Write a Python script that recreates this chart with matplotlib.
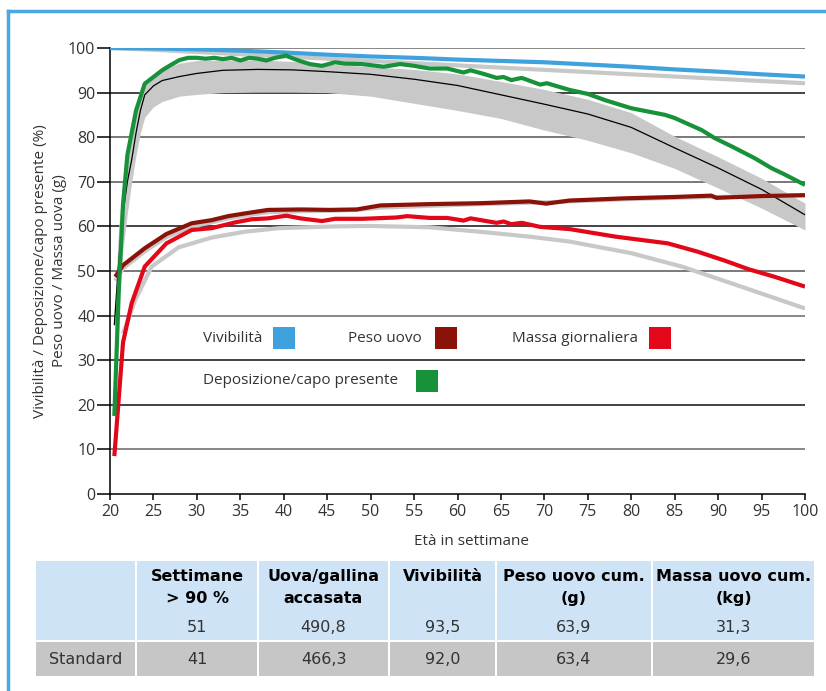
import matplotlib
matplotlib.use("Agg")
from matplotlib import pyplot as plt
from matplotlib.patches import Rectangle
from matplotlib.lines import Line2D

plt.rcParams['font.family'] = ['Open Sans', 'DejaVu Sans']

# --- data ---
viab_x = [20, 25, 30, 35, 40, 45, 50, 55, 60, 65, 70, 75, 80, 85, 90, 95, 100]
viab = [100, 99.9, 99.7, 99.4, 99.0, 98.5, 98.1, 97.8, 97.4, 97.1, 96.8, 96.3, 95.8, 95.2, 94.7, 94.1, 93.6]
viab_std = [100, 99.6, 99.1, 98.6, 98.1, 97.6, 97.1, 96.6, 96.1, 95.6, 95.1, 94.6, 94.1, 93.6, 93.1, 92.6, 92.1]

lay_x = [20.5, 21, 21.5, 22, 22.5, 23, 23.5, 24, 25, 26, 27, 28, 29, 30, 31, 32, 33, 34, 35, 36, 37, 38,
         39, 40.3, 41, 42, 43, 44.4, 45.9, 47, 49, 51.5, 53.4, 55, 56.8, 58.8, 60.7, 61.5, 63, 64.5, 65.3,
         66.2, 67.4, 69.5, 70.3, 72.9, 75, 77, 80, 83.9, 85, 88.1, 89.6, 91.6, 94.2, 96.2, 97.5, 100]
lay = [17.5, 45, 65, 76, 81, 86, 89, 92, 93.5, 95, 96.2, 97.3, 97.8, 97.8, 97.6, 97.8, 97.5, 97.8, 97.2, 97.8,
       97.6, 97.2, 97.8, 98.3, 97.7, 97.0, 96.4, 96.0, 96.8, 96.5, 96.4, 95.8, 96.4, 96.0, 95.4, 95.4, 94.5,
       95.0, 94.2, 93.3, 93.5, 92.8, 93.3, 91.8, 92.1, 90.6, 89.7, 88.3, 86.5, 85.0, 84.3, 81.6, 79.8, 77.9,
       75.3, 73.0, 71.8, 69.3]

lay_std_x = [20.5, 21, 21.5, 22, 22.5, 23, 23.5, 24, 25, 26, 28, 30, 33, 37, 41, 45, 50, 55, 60, 65, 70, 75,
             80, 85, 90, 95, 100]
lay_std = [38, 52, 63, 70, 75, 81, 86, 89.5, 91.5, 92.7, 93.6, 94.3, 95.0, 95.2, 95.1, 94.7, 94.1, 93.0, 91.6,
           89.5, 87.4, 85.2, 82.2, 77.6, 73.1, 68.3, 62.6]
lay_low = [36, 45, 55, 63, 70, 76, 81, 84.5, 86.8, 88, 89.2, 89.6, 90, 90.1, 90.1, 90, 89.2, 87.6, 86.0,
           84.2, 81.6, 79.3, 76.5, 73.0, 68.6, 64.1, 59.2]
lay_high = [40, 60, 70, 78, 83, 87, 90, 92.5, 94, 95.3, 96.6, 97.2, 97.3, 97.3, 97.0, 96.4, 95.8, 95.2, 94.2,
            92.5, 90.7, 88.5, 85.5, 80.2, 75.6, 70.8, 65.2]

egg_x = [20.6, 21.5, 24, 26.5, 29.4, 31.7, 33.6, 35.5, 38.2, 42, 45.3, 48.4, 51.1, 56.8, 62.6, 68.3, 70.2,
         72.9, 79.3, 85, 89.2, 89.8, 95, 100]
egg = [48.7, 51.3, 55.1, 58.3, 60.7, 61.4, 62.3, 62.9, 63.7, 63.8, 63.7, 63.8, 64.7, 65.0, 65.2, 65.6, 65.1,
       65.8, 66.3, 66.6, 66.9, 66.4, 66.8, 67.0]
egg_std = [47.8, 50.6, 54.4, 57.6, 60.0, 60.9, 61.8, 62.4, 63.2, 63.4, 63.5, 63.7, 64.2, 64.6, 65.0, 65.3,
           65.4, 65.6, 66.1, 66.4, 66.6, 66.6, 66.8, 67.0]

mass_x = [20.5, 21.5, 22.5, 24, 26.5, 29.4, 31.7, 34.4, 36.3, 38.2, 40.3, 41.9, 44.4, 45.9, 49, 53, 54.2,
          56.8, 58.8, 60.7, 61.5, 64.5, 65.3, 66.2, 67.4, 69.5, 72.9, 78.2, 84.2, 87.7, 90.8, 93.5, 96.5, 100]
mass = [8.5, 34, 42.8, 51, 56.2, 59.2, 59.6, 60.9, 61.6, 61.8, 62.4, 61.8, 61.2, 61.7, 61.7, 62.0, 62.3,
        61.9, 61.9, 61.3, 61.8, 60.8, 61.1, 60.5, 60.8, 59.9, 59.4, 57.7, 56.2, 54.3, 52.3, 50.4, 48.7, 46.5]

mass_std_x = [21.5, 22.9, 24.8, 27.9, 31.7, 35.5, 39.4, 45.9, 50, 56.8, 62.6, 68.3, 72.9, 80, 85.8, 91.6, 100]
mass_std = [36, 43.5, 51, 55.3, 57.5, 58.8, 59.6, 60.0, 60.1, 59.8, 58.8, 57.7, 56.6, 54.0, 51.0, 47.2, 41.6]

legend_labels = ['Vivibilità', 'Peso uovo', 'Massa giornaliera', 'Deposizione/capo presente']

col_headers = ['', 'Settimane\n> 90 %', 'Uova/gallina\naccasata', 'Vivibilità', 'Peso uovo cum.\n(g)',
               'Massa uovo cum.\n(kg)']
row_values = ['', '51', '490,8', '93,5', '63,9', '31,3']
row_standard = ['Standard', '41', '466,3', '92,0', '63,4', '29,6']

BLUE = '#3fa2dd'
GREEN = '#17923a'
DARKRED = '#8a1208'
RED = '#e3071a'
GREY = '#c8c8c8'
TXT = '#333333'

W, H = 826, 691


def fx(px):
    return px / W


def fy(py):
    return 1 - py / H


fig = plt.figure(figsize=(W / 100, H / 100), dpi=100)
ax = fig.add_axes([fx(110), fy(494), fx(805) - fx(110), fy(48) - fy(494)])
ax.set_xlim(20, 100)
ax.set_ylim(0, 100)

# horizontal grid
grid_cols = {10: '#666666', 20: '#111111', 30: '#111111', 40: '#666666', 50: '#555555',
             60: '#111111', 70: '#555555', 80: '#555555', 90: '#111111', 100: '#666666'}
for v, c in grid_cols.items():
    ax.axhline(v, color=c, lw=1.1, zorder=1)

# standards
ax.fill_between(lay_std_x, lay_low, lay_high, color=GREY, lw=0, zorder=2)
ax.plot(viab_x, viab_std, color=GREY, lw=3, zorder=2, solid_capstyle='butt')
ax.plot(egg_x, egg_std, color=GREY, lw=3, zorder=2, solid_capstyle='butt')
ax.plot(mass_std_x, mass_std, color=GREY, lw=3, zorder=2, solid_capstyle='butt')
ax.plot(lay_std_x, lay_std, color='black', lw=0.9, zorder=3)

# actual values
ax.plot(viab_x, viab, color=BLUE, lw=3, zorder=4, solid_capstyle='butt')
ax.plot(egg_x, egg, color=DARKRED, lw=3, zorder=4, solid_capstyle='butt')
ax.plot(mass_x, mass, color=RED, lw=3, zorder=4, solid_capstyle='butt')
ax.plot(lay_x, lay, color=GREEN, lw=3, zorder=5, solid_capstyle='butt')

for s in ['top', 'right']:
    ax.spines[s].set_visible(False)
for s in ['left', 'bottom']:
    ax.spines[s].set_linewidth(1.1)
ax.set_xticks(range(20, 101, 5))
ax.set_yticks(range(0, 101, 10))
ax.tick_params(axis='y', length=9.5, width=1.1, colors='black', labelcolor=TXT, labelsize=11.5, pad=1)
ax.tick_params(axis='x', length=4.5, width=1.1, colors='black', labelcolor=TXT, labelsize=11.5, pad=3)
ax.set_xlabel('Età in settimane', fontsize=11, color=TXT, labelpad=4)
ax.xaxis.set_label_coords(0.52, -0.09)
ax.set_ylabel('Vivibilità / Deposizione/capo presente (%)\nPeso uovo / Massa uova (g)', fontsize=11,
              color=TXT, linespacing=1.35)
ax.yaxis.set_label_coords(-0.062, 0.5)

# legend boxes
leg = [(legend_labels[0], BLUE, 203, 284, 338),
       (legend_labels[1], DARKRED, 348, 446, 338),
       (legend_labels[2], RED, 512, 660, 338),
       (legend_labels[3], GREEN, 203, 427, 381)]
for lab, col, tx, sx, yc in leg:
    fig.text(fx(tx), fy(yc), lab, fontsize=11, color=TXT, va='center', ha='left')
    fig.add_artist(Rectangle((fx(sx - 11), fy(yc + 11)), 22 / W, 22 / H, facecolor=col, edgecolor='none',
                             transform=fig.transFigure))

# frame
fig.add_artist(Line2D([fx(8), fx(8)], [fy(11), 0], color='#4ba8e2', lw=2.5, transform=fig.transFigure))
fig.add_artist(Line2D([fx(8), 1], [fy(11), fy(11)], color='#4ba8e2', lw=2.5, transform=fig.transFigure))

# table
edges = [35, 136, 258, 389, 496, 652, 815]
top, mid, bot = 561, 641, 676
fam = ['DejaVu Sans']
for i in range(len(edges) - 1):
    x0, x1 = edges[i] + 1, edges[i + 1] - 1
    fig.add_artist(Rectangle((fx(x0), fy(mid - 1)), (x1 - x0) / W, (mid - 1 - top) / H,
                             facecolor='#cfe3f6', edgecolor='none', transform=fig.transFigure))
    fig.add_artist(Rectangle((fx(x0), fy(bot)), (x1 - x0) / W, (bot - mid - 1) / H,
                             facecolor='#c6c6c6', edgecolor='none', transform=fig.transFigure))
    xc = fx((edges[i] + edges[i + 1]) / 2)
    if col_headers[i]:
        fig.text(xc, fy(569), col_headers[i], ha='center', va='top', fontsize=11.5, fontweight='bold',
                 color='black', family=fam, linespacing=1.6)
    fig.text(xc, fy(628), row_values[i], ha='center', va='center', fontsize=11.5, color=TXT, family=fam)
    fig.text(xc, fy(659), row_standard[i], ha='center', va='center', fontsize=11.5, color=TXT, family=fam)

fig.savefig('out.png', dpi=100)
